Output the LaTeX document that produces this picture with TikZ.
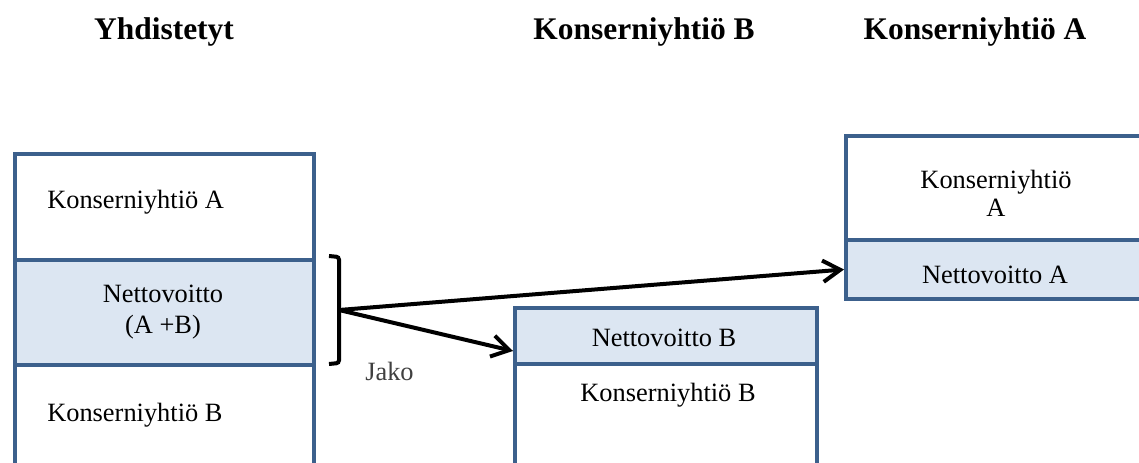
\documentclass[tikz,border=0pt]{standalone}
\usepackage{fontspec}
\setmainfont{Liberation Serif}
\usetikzlibrary{arrows.meta}
\usetikzlibrary{calc}
\definecolor{boxblue}{RGB}{60,96,140}
\definecolor{boxfill}{RGB}{220,230,242}
\tikzset{
	cell/.style={draw=boxblue, line width=3pt, inner sep=0pt, anchor=north west},
	netcell/.style={cell, fill=boxfill},
	txt/.style={font=\fontsize{19.8}{23.3}\selectfont, inner sep=0pt},
	head/.style={font=\fontsize{23.6}{28}\selectfont\bfseries, inner sep=0pt, anchor=base},
	share/.style={line width=3pt, -{Straight Barb[length=13pt,width=16pt]}}
}

\begin{document}
\begin{tikzpicture}[x=0.75pt, y=-0.75pt]
	\useasboundingbox (0,0) rectangle (1139,463);
	\clip (0,0) rectangle (1139,463);
	\node[head] (hY) at (164,40) {Yhdistetyt};
	\node[head] (hB) at (644,40) {Konserniyhtiö B};
	\node[head] (hA) at (975,40) {Konserniyhtiö A};
	% yhdistetyt
	\node[cell, minimum width=299*0.75pt, minimum height=106*0.75pt] (yA) at (13,152) {};
	\node[netcell, minimum width=299*0.75pt, minimum height=105*0.75pt] (yN) at (13,258) {};
	\node[cell, minimum width=299*0.75pt, minimum height=130*0.75pt] (yB) at (13,363) {};
	\node[txt, anchor=base west] (tyA) at (47,209) {Konserniyhtiö A};
	\node[txt, align=center] (tyN) at (163,312) {Nettovoitto\\(A +B)};
	\node[txt, anchor=base west] (tyB) at (47,421) {Konserniyhtiö B};
	% konserniyhtio B
	\node[netcell, minimum width=302*0.75pt, minimum height=56*0.75pt] (bN) at (513,306) {};
	\node[cell, minimum width=302*0.75pt, minimum height=130*0.75pt] (bK) at (513,362) {};
	\node[txt, anchor=base] (tbN) at (664,347) {Nettovoitto B};
	\node[txt, anchor=base] (tbK) at (668,402) {Konserniyhtiö B};
	% konserniyhtio A
	\node[cell, minimum width=320*0.75pt, minimum height=104*0.75pt] (aK) at (844,134) {};
	\node[netcell, minimum width=320*0.75pt, minimum height=59*0.75pt] (aN) at (844,238) {};
	\node[txt, align=center, font=\fontsize{19.8}{21}\selectfont] (taK) at (996,193) {Konserniyhtiö\\A};
	\node[txt, anchor=base] (taN) at (995,284) {Nettovoitto A};
	% jako
	\draw[line width=3pt, rounded corners=2pt] (329,256) -- (339,257) -- (339,363) -- (329,364);
	\coordinate (split) at (339,310);
	\draw[share] (split) -- (aN.west);
	\draw[share] (split) -- ($(bN.west)!.5!(bN.south west)$);
	\node[txt, anchor=base west, text=black!75] (jako) at (365,380) {Jako};
\end{tikzpicture}
\end{document}
